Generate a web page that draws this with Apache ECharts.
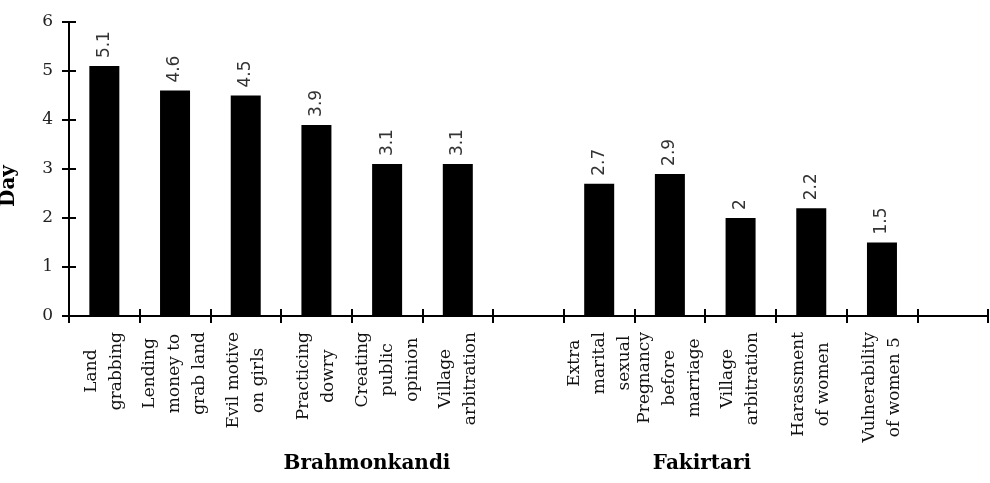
<!DOCTYPE html>
<html>
<head>
<meta charset="utf-8">
<script src="https://cdn.jsdelivr.net/npm/echarts@6/dist/echarts.min.js"></script>
<style>
html,body{margin:0;padding:0;background:#fff;}
#chart{width:990px;height:483px;}
</style>
</head>
<body>
<div id="chart"></div>
<script>
const categories = [
  'Land\ngrabbing',
  'Lending\nmoney to\ngrab land',
  'Evil motive\non girls',
  'Practicing\ndowry',
  'Creating\npublic\nopinion',
  'Village\narbitration',
  '',
  'Extra\nmarital\nsexual',
  'Pregnancy\nbefore\nmarriage',
  'Village\narbitration',
  'Harassment\nof women',
  'Vulnerability\nof women 5',
  ''
];
const values = [5.1, 4.6, 4.5, 3.9, 3.1, 3.1, null, 2.7, 2.9, 2, 2.2, 1.5, null];
const yMin = 0, yMax = 6, yStep = 1;
const yTitle = 'Day';
const groupNames = ['Brahmonkandi', 'Fakirtari'];

const catIds = categories.map((c, i) => 'c' + i);
const serif = 'DejaVu Serif';

const chart = echarts.init(document.getElementById('chart'), null, {renderer: 'canvas'});
chart.setOption({
  animation: false,
  backgroundColor: '#fff',
  grid: {left: 69, right: 2, top: 22, bottom: 167, containLabel: false},
  xAxis: [
    {
      type: 'category', data: catIds, position: 'bottom',
      axisLine: {lineStyle: {color: '#000', width: 2}},
      axisTick: {show: true, inside: false, length: 7, interval: 0, lineStyle: {color: '#000', width: 2}},
      axisLabel: {
        show: true, interval: 0, rotate: 90, margin: 16,
        formatter: (v, i) => categories[i] ? '{a|' + categories[i] + '}' : '',
        rich: {a: {align: 'center', fontFamily: serif, fontSize: 17, lineHeight: 25, color: '#111'}}
      },
      splitLine: {show: false}
    },
    {
      type: 'category', data: catIds, position: 'bottom',
      axisLine: {show: false},
      axisTick: {show: true, inside: true, length: 7, interval: 0, lineStyle: {color: '#000', width: 2}},
      axisLabel: {show: false},
      splitLine: {show: false}
    }
  ],
  yAxis: [
    {
      type: 'value', min: yMin, max: yMax, interval: yStep,
      axisLine: {show: true, lineStyle: {color: '#000', width: 2}},
      axisTick: {show: true, inside: false, length: 7, lineStyle: {color: '#000', width: 2}},
      axisLabel: {margin: 16, fontFamily: serif, fontSize: 17, color: '#222'},
      splitLine: {show: false}
    },
    {
      type: 'value', min: yMin, max: yMax, interval: yStep, position: 'left',
      axisLine: {show: false},
      axisTick: {show: true, inside: true, length: 7, lineStyle: {color: '#000', width: 2}},
      axisLabel: {show: false},
      splitLine: {show: false}
    }
  ],
  graphic: [
    {type: 'text', x: 9, y: 186, rotation: Math.PI / 2,
     style: {text: yTitle, font: 'bold 20px "DejaVu Serif"', fill: '#000', textAlign: 'center', textVerticalAlign: 'middle'}},
    {type: 'text', x: 367, y: 464,
     style: {text: groupNames[0], font: 'bold 20px "DejaVu Serif"', fill: '#000', textAlign: 'center', textVerticalAlign: 'middle'}},
    {type: 'text', x: 702, y: 464,
     style: {text: groupNames[1], font: 'bold 20px "DejaVu Serif"', fill: '#000', textAlign: 'center', textVerticalAlign: 'middle'}}
  ],
  series: [{
    type: 'bar', xAxisIndex: 0, yAxisIndex: 0,
    data: values, barWidth: 30,
    itemStyle: {color: '#000'},
    label: {
      show: true, position: 'top', rotate: 90, align: 'left', verticalAlign: 'middle', distance: 8,
      formatter: '{c}', fontFamily: 'DejaVu Sans', fontSize: 17, color: '#333'
    }
  }]
});
</script>
</body>
</html>
